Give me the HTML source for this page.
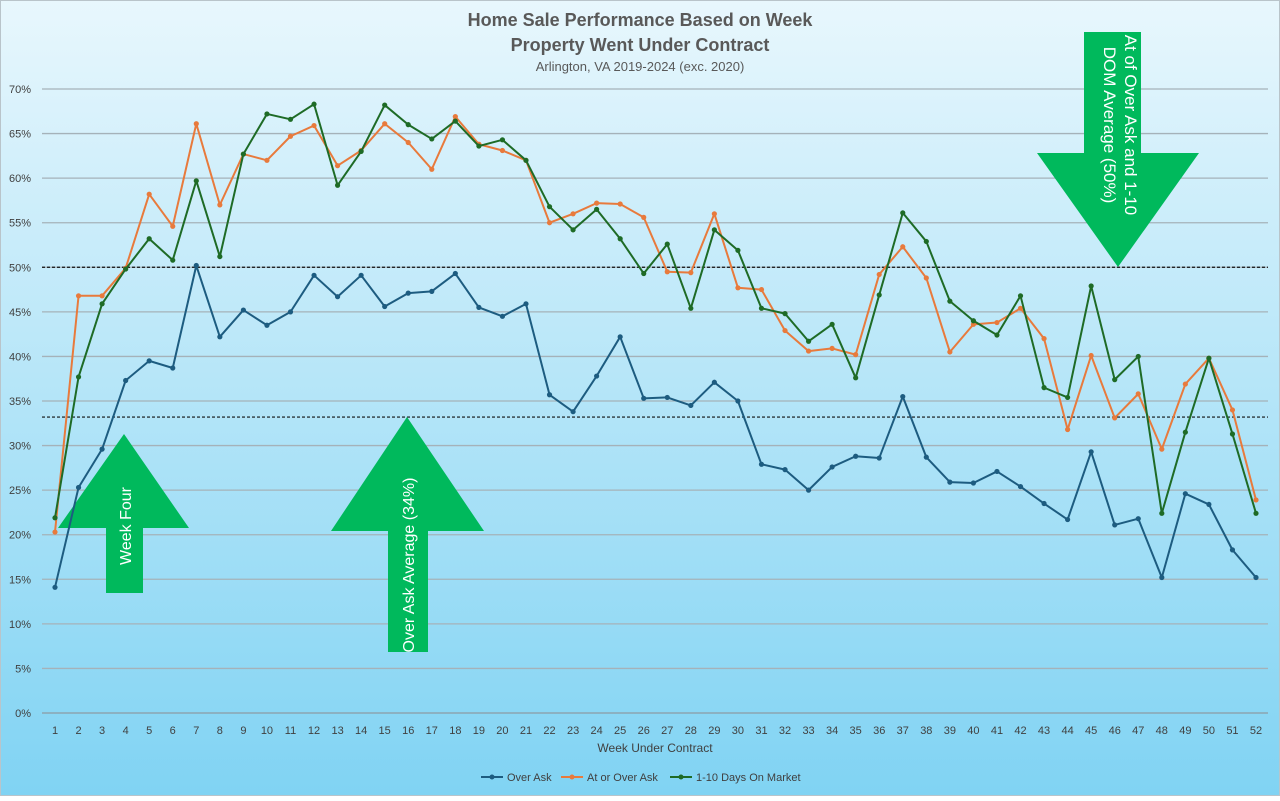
<!DOCTYPE html>
<html><head><meta charset="utf-8"><style>
body{margin:0;width:1280px;height:796px;overflow:hidden;font-family:"Liberation Sans",sans-serif}
</style></head><body>
<svg id="chart" width="1280" height="796" xmlns="http://www.w3.org/2000/svg">
<defs><linearGradient id="bg" x1="0" y1="0" x2="0" y2="1"><stop offset="0" stop-color="#e8f7fd"/><stop offset="1" stop-color="#80d3f3"/></linearGradient></defs>
<rect x="0.5" y="0.5" width="1279" height="795" fill="url(#bg)" stroke="#b9c4ca"/>
<g id="grid"></g><g id="ann"></g><g id="series"></g><g id="axes"></g>
<text x="640" y="26" text-anchor="middle" font-size="18" font-weight="bold" fill="#595959">Home Sale Performance Based on Week</text>
<text x="640" y="51" text-anchor="middle" font-size="18" font-weight="bold" fill="#595959">Property Went Under Contract</text>
<text x="640" y="71" text-anchor="middle" font-size="13" fill="#595959">Arlington, VA 2019-2024 (exc. 2020)</text>
<text x="655" y="752" text-anchor="middle" font-size="12" fill="#404040">Week Under Contract</text>
<g font-size="11" fill="#404040">
<line x1="481" y1="777" x2="503" y2="777" stroke="#1d5c80" stroke-width="2"/><circle cx="492" cy="777" r="2.5" fill="#1d5c80"/><text x="507" y="781">Over Ask</text>
<line x1="561" y1="777" x2="583" y2="777" stroke="#e87a3c" stroke-width="2"/><circle cx="572" cy="777" r="2.5" fill="#e87a3c"/><text x="587" y="781">At or Over Ask</text>
<line x1="670" y1="777" x2="692" y2="777" stroke="#1e6b26" stroke-width="2"/><circle cx="681" cy="777" r="2.5" fill="#1e6b26"/><text x="696" y="781">1-10 Days On Market</text>
</g>
</svg>
<script>
const weeks = Array.from({length:52},(_,i)=>i+1);
const overAsk = [14.1,25.3,29.6,37.3,39.5,38.7,50.2,42.2,45.2,43.5,45.0,49.1,46.7,49.1,45.6,47.1,47.3,49.3,45.5,44.5,45.9,35.7,33.8,37.8,42.2,35.3,35.4,34.5,37.1,35.0,27.9,27.3,25.0,27.6,28.8,28.6,35.5,28.7,25.9,25.8,27.1,25.4,23.5,21.7,29.3,21.1,21.8,15.2,24.6,23.4,18.3,15.2];
const atOrOver = [20.3,46.8,46.8,49.9,58.2,54.6,66.1,57.0,62.7,62.0,64.7,65.9,61.4,63.1,66.1,64.0,61.0,66.9,63.8,63.1,62.0,55.0,56.0,57.2,57.1,55.6,49.5,49.4,56.0,47.7,47.5,42.9,40.6,40.9,40.2,49.2,52.3,48.8,40.5,43.6,43.8,45.4,42.0,31.8,40.1,33.1,35.8,29.6,36.9,39.8,34.0,23.9];
const days1to10 = [21.9,37.7,45.9,49.8,53.2,50.8,59.7,51.2,62.7,67.2,66.6,68.3,59.2,63.0,68.2,66.0,64.4,66.4,63.6,64.3,62.0,56.8,54.2,56.5,53.2,49.3,52.6,45.4,54.2,51.9,45.4,44.8,41.7,43.6,37.6,46.9,56.1,52.9,46.2,44.0,42.4,46.8,36.5,35.4,47.9,37.4,40.0,22.4,31.5,39.8,31.3,22.4];
const yTicks = [0,5,10,15,20,25,30,35,40,45,50,55,60,65,70];
const refLines = [50,33.2];
const NS="http://www.w3.org/2000/svg";
const X0=55,X1=1256,Y0=713,Y1=89;
const xs=w=>X0+(w-1)*(X1-X0)/51;
const ys=v=>Y0-v*(Y0-Y1)/70;
function mk(t,a,p){const e=document.createElementNS(NS,t);for(const k in a)e.setAttribute(k,a[k]);p.appendChild(e);return e;}
const grid=document.getElementById('grid'),axes=document.getElementById('axes'),ser=document.getElementById('series'),ann=document.getElementById('ann');
yTicks.forEach(v=>{
 const l=mk('line',{x1:42,x2:1268,y1:ys(v),y2:ys(v),stroke:v===0?'#8c9aa2':'#a5b2b9','stroke-width':1.3},grid);
 
 
 const t=mk('text',{x:31,y:ys(v)+4,'text-anchor':'end','font-size':11,fill:'#404040'},axes);
 t.textContent=v+'%';
 
 
});
weeks.forEach(w=>{
 const t=mk('text',{x:xs(w),y:734,'text-anchor':'middle','font-size':11,fill:'#404040'},axes);
 t.textContent=w;
 
 
});
refLines.forEach(v=>{
 const l=mk('line',{x1:42,x2:1268,y1:ys(v),y2:ys(v),stroke:'#111','stroke-width':1.2,'stroke-dasharray':'3,2'},ann);
 
 
});
function arrow(pts,name){const p=mk('polygon',{points:pts,fill:'#00b95c'},ann);}
arrow('124,434 189,528 143,528 143,593 106,593 106,528 58,528','week-four-arrow');
arrow('407,417 484,531 428,531 428,652 388,652 388,531 331,531','over-ask-average-arrow');
arrow('1084,32 1141,32 1141,153 1199,153 1118,267 1037,153 1084,153','dom-average-arrow');
function rtext(x,y,rot,str,name,fs){const t=mk('text',{x:x,y:y,'text-anchor':'middle','font-size':fs||16,fill:'#fff',transform:`rotate(${rot} ${x} ${y})`},ann);t.textContent=str;}
rtext(131,526,-90,'Week Four','week-four-label');
rtext(414,565,-90,'Over Ask Average (34%)','over-ask-average-label');
rtext(1125,125,90,'At of Over Ask and 1-10','dom-average-label-line1',17);
rtext(1104,125,90,'DOM Average (50%)','dom-average-label-line2',17);
[[overAsk,'#1d5c80','over-ask'],[atOrOver,'#e87a3c','at-or-over-ask'],[days1to10,'#1e6b26','1-10-days-on-market']].forEach(([d,c,n])=>{
 const pl=mk('polyline',{points:d.map((v,i)=>xs(weeks[i])+','+ys(v)).join(' '),fill:'none',stroke:c,'stroke-width':2,'stroke-linejoin':'round'},ser);
 
 
 d.forEach((v,i)=>{
  const ci=mk('circle',{cx:xs(weeks[i]),cy:ys(v),r:2.6,fill:c},ser);
  
  
 });
});
</script>
</body></html>
